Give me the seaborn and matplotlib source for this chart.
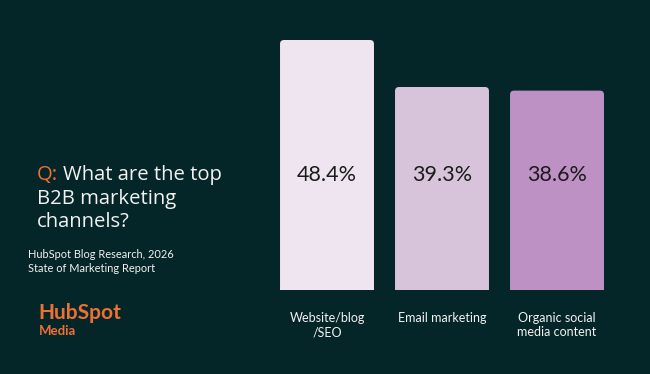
import matplotlib
matplotlib.use("Agg")
import matplotlib.pyplot as plt
import seaborn as sns
import pandas as pd
from matplotlib.patches import FancyBboxPatch

# data
channels = ["Website/blog\n/SEO", "Email marketing", "Organic social\nmedia content"]
shares = [48.4, 39.3, 38.6]
value_labels = ["48.4%", "39.3%", "38.6%"]
bar_colors = ["#EEE5F0", "#D7C4DA", "#BD91C3"]

BG = "#052629"
ORANGE = "#EE7032"
TXT = "#F2F2F0"

sns.set_theme(style="white")
plt.rcParams["font.family"] = ["Lato", "DejaVu Sans"]

df = pd.DataFrame({"channel": channels, "share": shares})

fig = plt.figure(figsize=(6.5, 3.74), dpi=100, facecolor=BG)
# axes placed in pixels: x 269.5..614.5, y (from top) 40..290
ax = fig.add_axes([269.5 / 650, 84 / 374, 345 / 650, 250 / 374])
ax.set_facecolor(BG)

sns.barplot(data=df, x="channel", y="share", hue="channel", palette=bar_colors,
            width=0.817, legend=False, ax=ax, saturation=1)
ax.set_xlim(-0.5, 2.5)
ax.set_ylim(0, 48.4)

# rounded tops: swap each bar for a rounded patch, bottom clipped by axes
aspect = (48.4 / 250) / (3 / 345)
for p in list(ax.patches):
    x, w, h = p.get_x(), p.get_width(), p.get_height()
    r = 4 / 115
    fb = FancyBboxPatch((x, -2), w, h + 2, boxstyle=f"round,pad=0,rounding_size={r}",
                        mutation_aspect=aspect, facecolor=p.get_facecolor(),
                        edgecolor="none", clip_on=True)
    p.set_visible(False)
    ax.add_patch(fb)

for i, lab in enumerate(value_labels):
    ax.text(i, 0.46, lab, transform=ax.get_xaxis_transform(), ha="center", va="center",
            fontsize=15.5, color="#1B1B1B")

sns.despine(ax=ax, left=True, bottom=True)
ax.set_yticks([])
ax.set_xlabel("")
ax.set_ylabel("")
ax.tick_params(axis="x", length=0, pad=16, labelsize=9, labelcolor=TXT)
for t in ax.get_xticklabels():
    t.set_linespacing(1.2)

# left-hand text block
head = dict(color=TXT, fontsize=14.6, va="center", ha="left", family=["Open Sans", "DejaVu Sans"])
fig.text(37 / 650, 1 - 175 / 374, "Q:", **{**head, "color": ORANGE})
fig.text(63 / 650, 1 - 175 / 374, "What are the top", **head)
fig.text(37 / 650, 1 - 199 / 374, "B2B marketing", **head)
fig.text(37 / 650, 1 - 222 / 374, "channels?", **head)
fig.text(28 / 650, 1 - 255 / 374, "HubSpot Blog Research, 2026", color=TXT, fontsize=7.9, va="center", ha="left")
fig.text(28 / 650, 1 - 269 / 374, "State of Marketing Report", color=TXT, fontsize=7.9, va="center", ha="left")

# logo
fig.text(38 / 650, 1 - 313 / 374, "HubSpot", color=ORANGE, fontsize=15, fontweight="bold", va="center", ha="left")
fig.text(39 / 650, 1 - 331 / 374, "Media", color=ORANGE, fontsize=9.5, fontweight="bold", va="center", ha="left")

fig.savefig("out.png", dpi=100, facecolor=BG)
